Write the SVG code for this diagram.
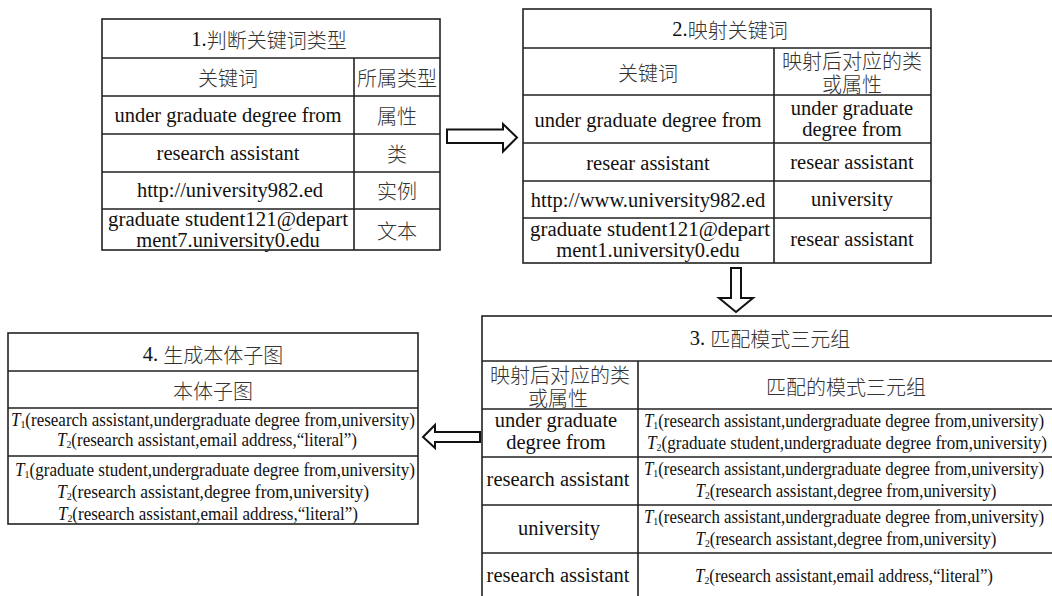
<svg xmlns="http://www.w3.org/2000/svg" width="1052" height="596" viewBox="0 0 1052 596">
<style>
.bg{fill:#fff}
.b{fill:#fff;stroke:#222;stroke-width:1.6}
.l{stroke:#222;stroke-width:1.6;fill:none}
.t{font-family:"Liberation Serif","Noto Sans CJK SC",serif;font-size:20.5px;fill:#111;text-anchor:middle;dominant-baseline:central}
.c{font-family:"Noto Sans CJK SC",sans-serif;font-size:20px;font-weight:300;fill:#333;text-anchor:middle;dominant-baseline:central}
.s{font-family:"Liberation Serif",serif;font-size:19px;fill:#111;text-anchor:middle;dominant-baseline:central}
.i{font-style:italic}
.arrow{fill:#fff;stroke:#111;stroke-width:2;stroke-linejoin:miter}
</style>
<rect class="bg" x="0" y="0" width="1052" height="596"/>

<g id="node1">
<rect class="b" x="102" y="19" width="338" height="231"/>
<path class="l" d="M102 58H440M102 96H440M102 134H440M102 172H440M102 209H440M354 58V250"/>
<text class="t" x="269" y="39">1.<tspan class="c">判断关键词类型</tspan></text>
<text class="c" x="228" y="77">关键词</text>
<text class="c" x="397" y="77">所属类型</text>
<text class="t" x="228" y="115">under graduate degree from</text>
<text class="c" x="397" y="115">属性</text>
<text class="t" x="228" y="153">research assistant</text>
<text class="c" x="397" y="153">类</text>
<text class="t" x="230" y="190">http://university982.ed</text>
<text class="c" x="397" y="190">实例</text>
<text class="t" x="228" y="219" textLength="240" lengthAdjust="spacingAndGlyphs">graduate student121@depart</text>
<text class="t" x="228" y="240">ment7.university0.edu</text>
<text class="c" x="397" y="230">文本</text>
</g>

<g id="node2">
<rect class="b" x="523" y="9" width="408" height="254"/>
<path class="l" d="M523 48H931M523 95H931M523 143H931M523 181H931M523 218H931M774 48V263"/>
<text class="t" x="730" y="29">2.<tspan class="c">映射关键词</tspan></text>
<text class="c" x="648" y="72">关键词</text>
<text class="c" x="852" y="60">映射后对应的类</text>
<text class="c" x="852" y="83">或属性</text>
<text class="t" x="648" y="120">under graduate degree from</text>
<text class="t" x="852" y="108">under graduate</text>
<text class="t" x="852" y="129">degree from</text>
<text class="t" x="648" y="163">resear assistant</text>
<text class="t" x="852" y="162">resear assistant</text>
<text class="t" x="648" y="200">http://www.university982.ed</text>
<text class="t" x="852" y="199">university</text>
<text class="t" x="650" y="229" textLength="240" lengthAdjust="spacingAndGlyphs">graduate student121@depart</text>
<text class="t" x="648" y="250">ment1.university0.edu</text>
<text class="t" x="852" y="239">resear assistant</text>
</g>

<g id="node3">
<rect class="b" x="482" y="316" width="574" height="290"/>
<path class="l" d="M482 361H1056M482 409H1056M482 457H1056M482 505H1056M482 553H1056M638 361V600"/>
<text class="t" x="770" y="338">3. <tspan class="c">匹配模式三元组</tspan></text>
<text class="c" x="560" y="374">映射后对应的类</text>
<text class="c" x="558" y="397">或属性</text>
<text class="c" x="846" y="386">匹配的模式三元组</text>
<text class="t" x="556" y="420">under graduate</text>
<text class="t" x="556" y="442">degree from</text>
<text class="s" x="844" y="420" textLength="400" lengthAdjust="spacingAndGlyphs"><tspan class="i">T</tspan><tspan font-size="11" dy="5">1</tspan><tspan dy="-5">(research assistant,undergraduate degree from,university)</tspan></text>
<text class="s" x="847" y="442" textLength="400" lengthAdjust="spacingAndGlyphs"><tspan class="i">T</tspan><tspan font-size="11" dy="5">2</tspan><tspan dy="-5">(graduate student,undergraduate degree from,university)</tspan></text>
<text class="t" x="558" y="479">research assistant</text>
<text class="s" x="844" y="468" textLength="400" lengthAdjust="spacingAndGlyphs"><tspan class="i">T</tspan><tspan font-size="11" dy="5">1</tspan><tspan dy="-5">(research assistant,undergraduate degree from,university)</tspan></text>
<text class="s" x="846" y="490" textLength="301" lengthAdjust="spacingAndGlyphs"><tspan class="i">T</tspan><tspan font-size="11" dy="5">2</tspan><tspan dy="-5">(research assistant,degree from,university)</tspan></text>
<text class="t" x="559" y="528">university</text>
<text class="s" x="844" y="516" textLength="400" lengthAdjust="spacingAndGlyphs"><tspan class="i">T</tspan><tspan font-size="11" dy="5">1</tspan><tspan dy="-5">(research assistant,undergraduate degree from,university)</tspan></text>
<text class="s" x="846" y="538" textLength="301" lengthAdjust="spacingAndGlyphs"><tspan class="i">T</tspan><tspan font-size="11" dy="5">2</tspan><tspan dy="-5">(research assistant,degree from,university)</tspan></text>
<text class="t" x="558" y="575">research assistant</text>
<text class="s" x="844" y="575" textLength="298" lengthAdjust="spacingAndGlyphs"><tspan class="i">T</tspan><tspan font-size="11" dy="5">2</tspan><tspan dy="-5">(research assistant,email address,“literal”)</tspan></text>
</g>

<g id="node4">
<rect class="b" x="8" y="333" width="410" height="191"/>
<path class="l" d="M8 371H418M8 408H418M8 456H418"/>
<text class="t" x="213" y="354">4. <tspan class="c">生成本体子图</tspan></text>
<text class="c" x="213" y="390">本体子图</text>
<text class="s" x="213" y="419" textLength="404" lengthAdjust="spacingAndGlyphs"><tspan class="i">T</tspan><tspan font-size="11" dy="5">1</tspan><tspan dy="-5">(research assistant,undergraduate degree from,university)</tspan></text>
<text class="s" x="207" y="439" textLength="300" lengthAdjust="spacingAndGlyphs"><tspan class="i">T</tspan><tspan font-size="11" dy="5">2</tspan><tspan dy="-5">(research assistant,email address,“literal”)</tspan></text>
<text class="s" x="215" y="469" textLength="400" lengthAdjust="spacingAndGlyphs"><tspan class="i">T</tspan><tspan font-size="11" dy="5">1</tspan><tspan dy="-5">(graduate student,undergraduate degree from,university)</tspan></text>
<text class="s" x="213" y="491" textLength="312" lengthAdjust="spacingAndGlyphs"><tspan class="i">T</tspan><tspan font-size="11" dy="5">2</tspan><tspan dy="-5">(research assistant,degree from,university)</tspan></text>
<text class="s" x="208" y="513" textLength="300" lengthAdjust="spacingAndGlyphs"><tspan class="i">T</tspan><tspan font-size="11" dy="5">2</tspan><tspan dy="-5">(research assistant,email address,“literal”)</tspan></text>
</g>

<g id="connectors">
<polygon class="arrow" points="447,129.5 503,129.5 503,124 517,137.5 503,151.5 503,143 447,143"/>
<polygon class="arrow" points="731,268 741,268 741,298 753,298 736,312 719,298 731,298"/>
<polygon class="arrow" points="480,432 435,432 435,425 423,437 435,448 435,442 480,442"/>
</g>
</svg>
